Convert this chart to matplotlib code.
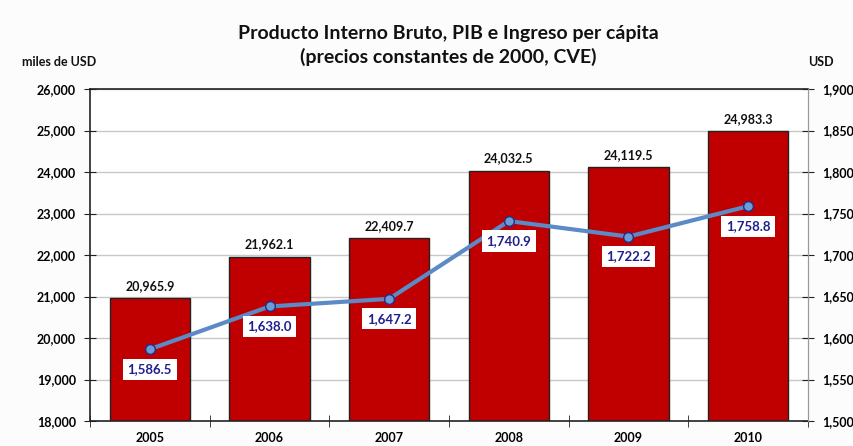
import matplotlib
matplotlib.use("Agg")
import matplotlib.pyplot as plt
import numpy as np

years = ["2005", "2006", "2007", "2008", "2009", "2010"]
pib = [20965.9, 21962.1, 22409.7, 24032.5, 24119.5, 24983.3]
pc = [1586.5, 1638.0, 1647.2, 1740.9, 1722.2, 1758.8]

plt.rcParams['font.family'] = ['Lato', 'DejaVu Sans']

fig = plt.figure(figsize=(8.54, 4.46), dpi=100, facecolor='#fcfcfc')
ax = fig.add_axes([0.1054, 0.056, 0.8407, 0.7444])
ax.set_facecolor('white')
x = np.arange(len(years))
ax.bar(x, pib, width=0.67, color='#C00000', edgecolor='#222222', linewidth=1.0, zorder=2)
ax.set_xlim(-0.5, len(years) - 0.5)
ax.set_ylim(18000, 26000)
ax.set_yticks(np.arange(18000, 26001, 1000))
ax.set_yticklabels([f"{v:,.0f}" for v in np.arange(18000, 26001, 1000)], fontsize=9, fontweight='bold')
ax.grid(axis='y', color='#c8c8c8', linewidth=1.0, zorder=0)
ax.set_xticks(x)
ax.set_xticklabels(years, fontsize=9, fontweight='bold')
ax.tick_params(axis='x', length=0, pad=8)
ax.set_xticks(np.arange(-0.5, len(years), 1), minor=True)
ax.tick_params(axis='x', which='minor', direction='inout', length=8, color='#222222')
ax.tick_params(axis='y', direction='inout', length=8, color='#222222', pad=6)
for s in ['left', 'bottom', 'top']:
    ax.spines[s].set_color('#222222')
    ax.spines[s].set_linewidth(1.2)
ax.spines['right'].set_color('#999999')

for xi, v in zip(x, pib):
    ax.text(xi, v + 150, f"{v:,.1f}", ha='center', va='bottom', fontsize=9, fontweight='bold', color='#111111')

ax2 = ax.twinx()
ax2.set_ylim(1500, 1900)
ax2.set_yticks(np.arange(1500, 1901, 50))
ax2.set_yticklabels([f"{v:,.0f}" for v in np.arange(1500, 1901, 50)], fontsize=9, fontweight='bold')
ax2.tick_params(axis='y', direction='inout', length=8, color='#222222', pad=6)
for s in ['left', 'bottom', 'top']:
    ax2.spines[s].set_visible(False)
ax2.spines['right'].set_color('#999999')
ax2.plot(x, pc, color='#5B8AC6', linewidth=3, marker='o', markersize=7,
         markerfacecolor='#6E9BD3', markeredgecolor='#1F2F8F', markeredgewidth=1.0, zorder=3)
for xi, v in zip(x, pc):
    ax2.text(xi, v - 24, f"{v:,.1f}", ha='center', va='center', fontsize=9.5, fontweight='bold',
             color='#1F1F8F', bbox=dict(boxstyle='square,pad=0.35', facecolor='white', edgecolor='none'))

fig.text(0.525, 0.926, "Producto Interno Bruto, PIB e Ingreso per cápita", ha='center', va='center',
         fontsize=14, fontweight='bold', color='#111111')
fig.text(0.525, 0.872, "(precios constantes de 2000, CVE)", ha='center', va='center',
         fontsize=14, fontweight='bold', color='#111111')
fig.text(0.026, 0.861, "miles de USD", ha='left', va='center', fontsize=9, fontweight='bold', color='#111111')
fig.text(0.946, 0.861, "USD", ha='left', va='center', fontsize=9, fontweight='bold', color='#111111')

fig.savefig("out.png", dpi=100, facecolor=fig.get_facecolor())
